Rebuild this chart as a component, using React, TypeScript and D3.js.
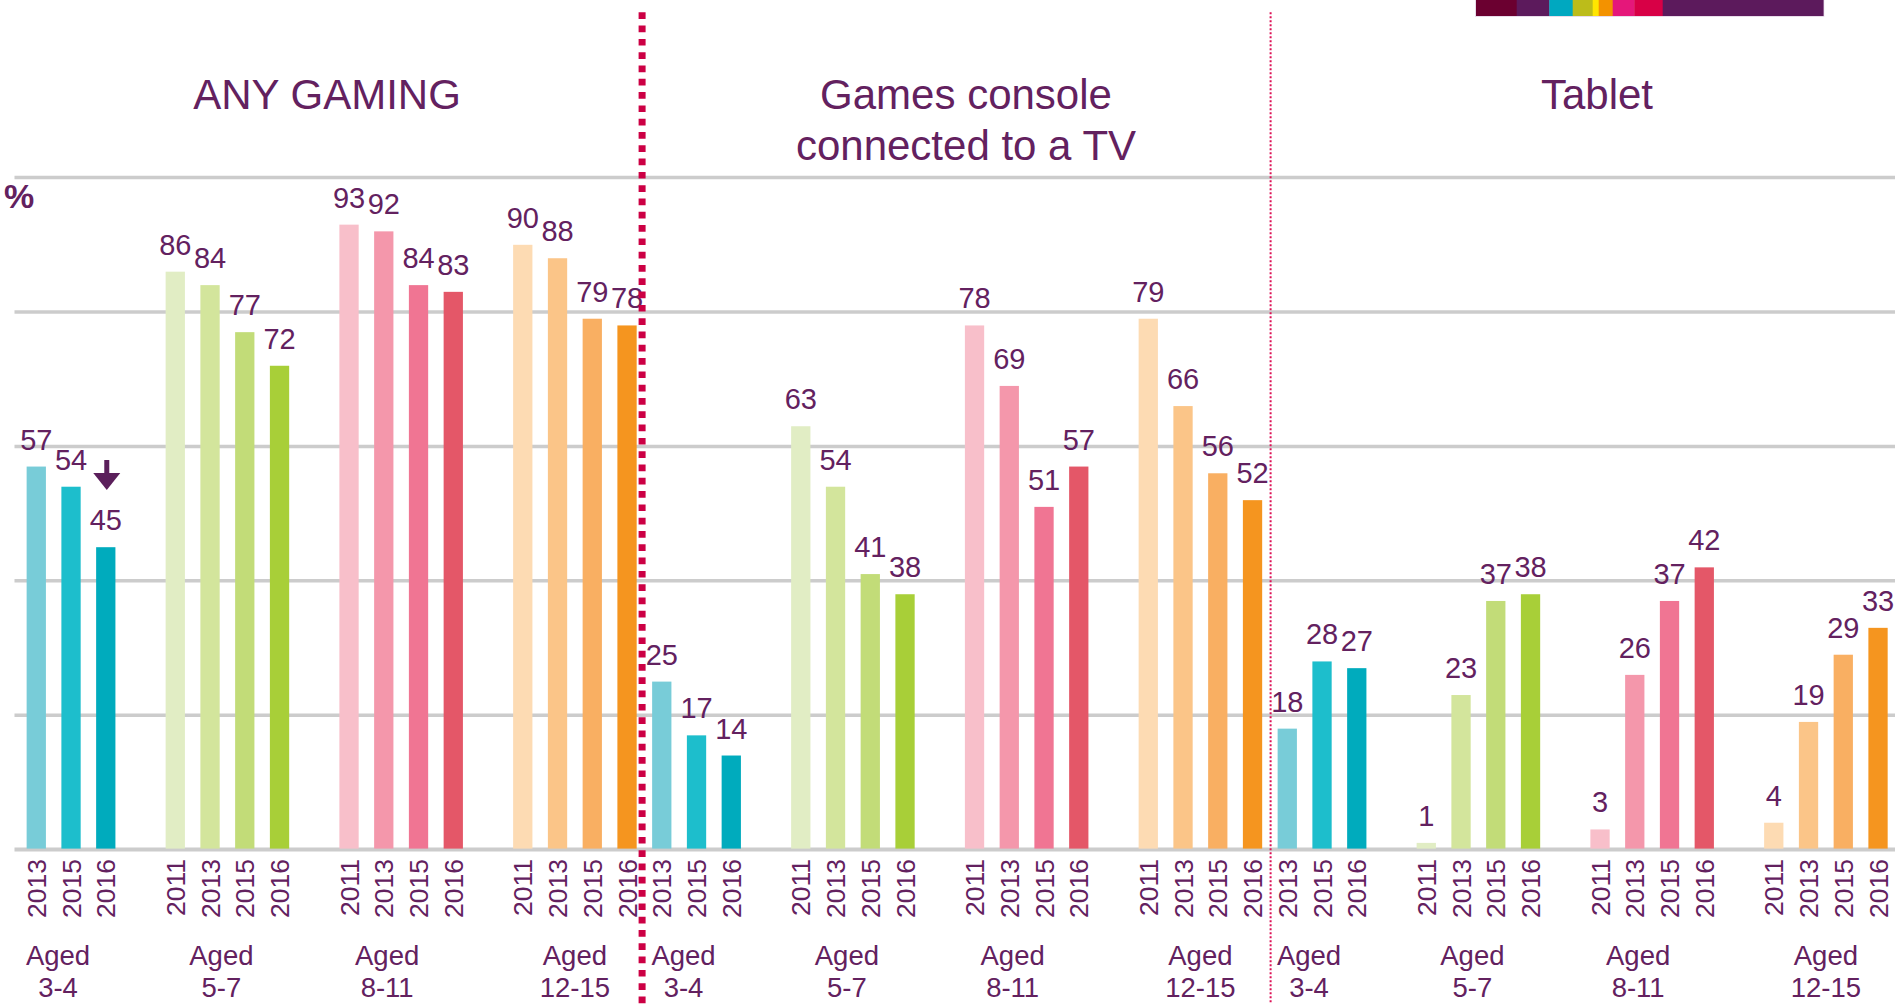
import React from "react";
import * as d3 from "d3";

// ---------- data ----------
const panelTitles: string[][] = [["ANY GAMING"], ["Games console", "connected to a TV"], ["Tablet"]];
const ageGroups: string[] = ["3-4", "5-7", "8-11", "12-15"];
const yearsYoung: string[] = ["2013", "2015", "2016"];
const yearsOlder: string[] = ["2011", "2013", "2015", "2016"];

const anyGaming: number[][] = [[57, 54, 45], [86, 84, 77, 72], [93, 92, 84, 83], [90, 88, 79, 78]];
const gamesConsole: number[][] = [[25, 17, 14], [63, 54, 41, 38], [78, 69, 51, 57], [79, 66, 56, 52]];
const tablet: number[][] = [[18, 28, 27], [1, 23, 37, 38], [3, 26, 37, 42], [4, 19, 29, 33]];
const panelValues: number[][][] = [anyGaming, gamesConsole, tablet];

const yTicks: number[] = [0, 20, 40, 60, 80, 100];

// colours per age group (by year)
const colorsAge: string[][] = [
  ["#78ccd8", "#1dbecc", "#00abbd"],
  ["#e1edc4", "#d3e59c", "#c2dc78", "#a8cf38"],
  ["#f8bfca", "#f497ab", "#f07593", "#e45768"],
  ["#fddbb3", "#fbc588", "#f9af62", "#f5951f"],
];

const brandColors: string[] = ["#6b0030", "#5c1a5c", "#00a8c0", "#bcbc1a", "#ffe600", "#f39200", "#e5177a", "#d80046", "#5c1a5c"];
const brandWidths: number[] = [40.7, 32.6, 23.4, 20, 6, 14, 21.6, 28.4, 160.6];

// ---------- layout ----------
const W = 1895;
const H = 1004;
const PURPLE = "#63215f";
const FONT = "'Liberation Sans', Arial, Helvetica, sans-serif";
const ageLabelShift = [-13, -6, -14, 0];
const titleX = [327, 966, 1597];

type Bar = { key: string; slot: number; value: number; year: string; color: string; panel: number; age: number; yi: number };

const bars: Bar[] = [];
const groupSlots: { panel: number; age: number; first: number; last: number }[] = [];
let slot = 0;
panelValues.forEach((panel, p) => {
  panel.forEach((vals, a) => {
    const years = vals.length === 3 ? yearsYoung : yearsOlder;
    const first = slot;
    vals.forEach((v, i) => {
      bars.push({ key: `${p}-${a}-${i}`, slot, value: v, year: years[i], color: colorsAge[a][i], panel: p, age: a, yi: i });
      slot++;
    });
    groupSlots.push({ panel: p, age: a, first, last: slot - 1 });
    if (a < panel.length - 1) slot++;
  });
});
const nSlots = slot;

export default function App() {
  const x = d3
    .scaleBand<number>()
    .domain(d3.range(nSlots))
    .range([18.9, 18.9 + nSlots * 34.75])
    .paddingInner(0.445)
    .paddingOuter(0.2225);
  const y = d3.scaleLinear().domain([0, 100]).range([849.6, 177.6]);
  const bw = x.bandwidth();
  const cx = (s: number) => (x(s) as number) + bw / 2;
  const step = x.step();

  const dividerX = [cx(17) + step / 2 - 2.3, cx(35) + step / 2 + 0.7];

  let bx = 1476;
  const brand = brandColors.map((c, i) => {
    const r = { x: bx, w: brandWidths[i], c };
    bx += brandWidths[i];
    return r;
  });

  const arrowBar = bars.find((b) => b.panel === 0 && b.age === 0 && b.yi === 2)!;
  const ax = cx(arrowBar.slot) + 1;

  return (
    <svg width={W} height={H} style={{ position: "absolute", left: 0, top: 0, background: "#fff" }} fontFamily={FONT}>
      {/* brand strip */}
      <rect x={1475} y={-1} width={bx - 1475 + 1} height={18} fill="#e8dcea" />
      {brand.map((r, i) => (
        <rect key={i} x={r.x} y={0} width={r.w + 0.3} height={16} fill={r.c} />
      ))}

      {/* gridlines */}
      {yTicks.map((t) => (
        <line key={t} x1={14.5} x2={W} y1={y(t)} y2={y(t)} stroke="#cccccc" strokeWidth={t === 0 ? 4 : 3.5} />
      ))}

      {/* % label */}
      <text x={4} y={208} fontSize={34} fontWeight="bold" fill={PURPLE}>%</text>

      {/* panel titles */}
      {panelTitles.map((lines, p) => (
        <text key={p} x={titleX[p]} y={108.5} fontSize={42} fill={PURPLE} textAnchor="middle">
          {lines.map((l, i) => (
            <tspan key={i} x={titleX[p]} dy={i === 0 ? 0 : 51}>{l}</tspan>
          ))}
        </text>
      ))}

      {/* bars */}
      {bars.map((b) => (
        <rect key={b.key} x={x(b.slot)} y={y(b.value)} width={bw} height={y(0) - y(b.value) - 1} fill={b.color} />
      ))}

      {/* value labels */}
      {bars.map((b) => (
        <text key={"v" + b.key} x={cx(b.slot)} y={y(b.value) - 17} fontSize={29} fill={PURPLE} textAnchor="middle">
          {b.value}
        </text>
      ))}

      {/* arrow */}
      <g fill="#5b1f5b">
        <rect x={ax - 2.5} y={460} width={5} height={15} />
        <path d={`M${ax - 13.5},${473} L${ax + 13.5},${473} L${ax},${490} Z`} />
      </g>

      {/* year labels */}
      {bars.map((b) => (
        <text
          key={"y" + b.key}
          transform={`translate(${cx(b.slot)},${859}) rotate(-90)`}
          fontSize={26.5}
          fill={PURPLE}
          textAnchor="end"
          dy="0.36em"
        >
          {b.year}
        </text>
      ))}

      {/* age labels */}
      {groupSlots.map((g, i) => {
        const c = (cx(g.first) + cx(g.last)) / 2 + ageLabelShift[g.age];
        return (
          <text key={"a" + i} x={c} fontSize={27.5} fill={PURPLE} textAnchor="middle">
            <tspan x={c} y={965}>Aged</tspan>
            <tspan x={c} y={997}>{ageGroups[g.age]}</tspan>
          </text>
        );
      })}

      {/* dividers */}
      <line x1={dividerX[0]} x2={dividerX[0]} y1={12.3} y2={H} stroke="#cc0044" strokeWidth={7} strokeDasharray="6.7 6.6" />
      <line x1={dividerX[1]} x2={dividerX[1]} y1={12.3} y2={H} stroke="#dd1155" strokeWidth={2} strokeDasharray="2 2" />
    </svg>
  );
}
